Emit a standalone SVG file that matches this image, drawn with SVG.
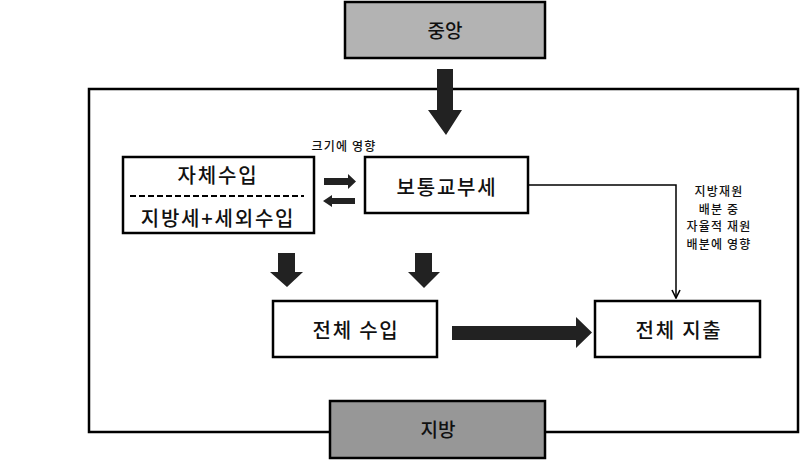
<svg xmlns="http://www.w3.org/2000/svg" width="800" height="461" viewBox="0 0 800 461">
<style>
.box{fill:#fff;stroke:#000;stroke-width:2.5}
.t{font-family:"Noto Sans CJK KR","Noto Sans",sans-serif;fill:#111;text-anchor:middle}
.big{font-size:20px;font-weight:500;letter-spacing:1.8px}
.small{font-size:12px;font-weight:500;letter-spacing:1.2px}
.blk{fill:#222}
</style>
<defs>
<marker id="ah" viewBox="0 0 10 10" refX="9" refY="5" markerWidth="10" markerHeight="10" markerUnits="userSpaceOnUse" orient="auto">
<path d="M1,1 L9,5 L1,9" fill="none" stroke="#000" stroke-width="1.6"/>
</marker>
</defs>
<rect width="800" height="461" fill="#fff"/>
<g id="frame">
<rect x="89" y="89" width="709" height="343" fill="none" stroke="#000" stroke-width="2.5"/>
</g>
<g id="connectors">
<path class="blk" d="M437,69 H453 V110 H462 L446,135 L428,110 H437 Z"/>
<path class="blk" d="M324,178 H348 V174 L356,181.5 L348,189 V185 H324 Z"/>
<path class="blk" d="M355,198 H332 V195 L323,201 L332,207 V204 H355 Z"/>
<path class="blk" d="M278,253 H295 V272 H303 L287,287 L270,272 H278 Z"/>
<path class="blk" d="M415,253 H432 V272 H440 L424,288 L408,272 H415 Z"/>
<path class="blk" d="M452,326 H576 V317 L592,332.5 L576,348 V340 H452 Z"/>
<path d="M528,185 H676 V298" fill="none" stroke="#000" stroke-width="1.5" marker-end="url(#ah)"/>
<text class="t small" x="344" y="151">크기에 영향</text>
<text class="t small" x="719" y="196">지방재원</text>
<text class="t small" x="719" y="213.5">배분 중</text>
<text class="t small" x="719" y="231">자율적 재원</text>
<text class="t small" x="719" y="248.5">배분에 영향</text>
</g>
<g id="central">
<rect x="345" y="2" width="200" height="56" fill="#b3b3b3" stroke="#000" stroke-width="2.5"/>
<text class="t" x="445" y="38" font-size="19" font-weight="500">중앙</text>
</g>
<g id="local">
<rect x="330" y="401" width="215" height="57" fill="#979797" stroke="#000" stroke-width="2.5"/>
<text class="t" x="438" y="437" font-size="19" font-weight="500">지방</text>
</g>
<g id="own-revenue">
<rect class="box" x="123" y="157" width="191" height="76"/>
<text class="t big" x="218" y="183">자체수입</text>
<line x1="130" y1="196" x2="304" y2="196" stroke="#000" stroke-width="2" stroke-dasharray="6,3"/>
<text class="t big" x="218" y="226">지방세+세외수입</text>
</g>
<g id="grant">
<rect class="box" x="365" y="157" width="163" height="56"/>
<text class="t big" x="447" y="195">보통교부세</text>
</g>
<g id="total-revenue">
<rect class="box" x="273" y="301" width="164" height="56"/>
<text class="t big" x="356" y="338">전체 수입</text>
</g>
<g id="total-expenditure">
<rect class="box" x="595" y="301" width="165" height="56"/>
<text class="t big" x="679" y="338">전체 지출</text>
</g>
</svg>
